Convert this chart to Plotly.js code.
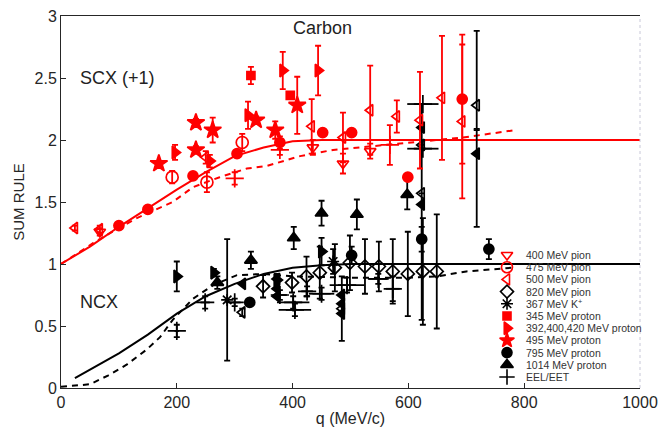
<!DOCTYPE html>
<html><head><meta charset="utf-8">
<script src="https://cdn.plot.ly/plotly-3.0.1.min.js"></script>
<style>html,body{margin:0;padding:0;background:#fff}#chart{width:659px;height:431px}</style>
</head><body><div id="chart"></div>
<script>
// ---------- theory curves ----------
const scxSolidQ=[0,25,50,100,150,200,250,300,350,400,450,500,1000];
const scxSolidY=[1.0,1.07,1.14,1.30,1.45,1.60,1.74,1.87,1.94,1.99,2.0,2.0,2.0];
const scxDashQ=[0,56,100,131,193,228,274,321,355,413,470,539,600,694,785];
const scxDashY=[1.0,1.17,1.29,1.37,1.50,1.62,1.70,1.77,1.79,1.87,1.92,1.95,1.98,2.02,2.08];
const ncxSolidQ=[24,50,100,150,200,250,300,350,400,450,500,1000];
const ncxSolidY=[0.08,0.15,0.28,0.43,0.60,0.74,0.84,0.92,0.97,0.99,1.0,1.0];
const ncxDashQ=[0,50,81,114,148,171,193,228,263,304,350,400,500,600,650,700,780];
const ncxDashY=[0.01,0.03,0.10,0.19,0.31,0.41,0.55,0.72,0.83,0.91,0.92,0.90,0.89,0.89,0.90,0.94,0.97];

// ---------- SCX (red) data ----------
const r400Q=[67,435,487,534], r400Y=[1.26,1.94,1.81,1.91], r400E=[0.03,0.06,0.08,0.06];
const r475Q=[192,252,313], r475Y=[1.70,1.66,1.98], r475E=[0.05,0.08,0.07];
const r500Q=[24,67,250,433,487,534,580,620,658,693];
const r500Y=[1.29,1.28,1.86,2.11,2.02,2.24,2.19,2.16,2.34,2.15];
const r500E=[0.02,0.03,0.05,0.22,0.2,0.36,0.13,0.39,0.5,0.62];
const r345Q=[328,396], r345Y=[2.52,2.36], r345E=[0.07,0];
const r392Q=[197,257,323,383,444], r392Y=[1.90,1.83,2.20,2.56,2.56], r392E=[0.06,0.05,0.11,0.15,0.2];
const r495Q=[169,233,233,262,337,370,408], r495Y=[1.81,2.14,1.92,2.08,2.16,2.08,2.28], r495E=[0,0.03,0.03,0.1,0.03,0.07,0.23];
const r795Q=[100,150,228,304,378,452,502,599,693], r795Y=[1.31,1.44,1.71,1.89,1.98,2.06,2.06,1.70,2.33], r795E=[0,0,0,0,0.05,0,0,0,0.52];
const rEelQ=[300,378,568], rEelY=[1.69,1.92,1.96], rEelE=[0.05,0.04,0.16];

// ---------- NCX (black) data ----------
const b820Q=[349,399,424,447,473,499,525,549,573,599,625,649];
const b820Y=[0.82,0.85,0.90,0.93,0.97,1.01,0.98,0.98,0.94,0.92,0.94,0.94];
const b820E=[0.09,0.08,0.16,0.21,0.19,0.22,0.22,0.2,0.26,0.34,0.43,0.46];
const bKQ=[287,470], bKY=[0.71,1.02], bKE=[0.49,0.1];
const b795Q=[326,502,623,739], b795Y=[0.69,1.07,1.20,1.12], b795E=[0,0.07,0.1,0.08];
const b1014Q=[270,328,402,450,511,598], b1014Y=[0.85,1.03,1.21,1.41,1.40,1.56], b1014E=[0.05,0.07,0.09,0.1,0.12,0.12];
const b392Q=[200,264,373,450], b392Y=[0.90,0.93,0.87,1.10], b392E=[0.12,0.03,0.05,0.11];
const bEelQ=[200,249,300,378,401,404,425,450,494,548,573,625,625];
const bEelY=[0.46,0.69,0.69,0.75,0.69,0.63,0.78,0.76,0.83,0.88,0.80,2.29,1.93];
const bEelXE=[4,8,10,12,28,28,10,22,30,18,12,27,27];
const bEelYE=[0.05,0.05,0.03,0.04,0.05,0.05,0.04,0.05,0.06,0.04,0.1,0,0];
const b500Q=[313,485,623,623,718], b500Y=[0.61,0.64,1.96,1.57,2.28];
const b500Ep=[0.03,0.26,0,0,0.6], b500Em=[0.03,0.26,0,0,0.2];
const bTLQ=[314,373,373,373,485,485,485,623,623,718];
const bTLY=[0.84,0.88,0.80,0.74,0.75,0.68,0.60,2.10,1.48,1.89];
const bTLEp=[0,0,0,0,0,0,0,0,0.81,0.2], bTLEm=[0,0,0,0,0,0,0,0,0.93,0.59];

// ---------- legend ----------
const legLabels=['400 MeV pion','475 MeV pion','500 MeV pion','820 MeV pion','367 MeV K<sup>+</sup>','345 MeV proton','392,400,420 MeV proton','495 MeV proton','795 MeV proton','1014 MeV proton','EEL/EET'];

const RED='#ff0000', BLK='#000000';
const STY={
  p400:{symbol:'triangle-down-open',size:10},
  p475:{symbol:'circle-open',size:12},
  p500:{symbol:'triangle-left-open',size:10},
  p820:{symbol:'diamond-open',size:10},
  k367:{symbol:'asterisk-open',size:10},
  p345:{symbol:'square',size:8},
  p392:{symbol:'triangle-right',size:11},
  p495:{symbol:'star',size:13},
  p795:{symbol:'circle',size:10},
  p1014:{symbol:'triangle-up',size:11},
  eel:{symbol:'cross-thin-open',size:13},
  tl:{symbol:'triangle-left',size:10}
};
const legOrder=[['p400',RED],['p475',RED],['p500',RED],['p820',BLK],['k367',BLK],['p345',RED],['p392',RED],['p495',RED],['p795',BLK],['p1014',BLK],['eel',BLK]];

function mk(q,y,ep,em,key,color,xe){
  const s=STY[key];
  const t={type:'scatter',mode:'markers',x:q,y:y,showlegend:false,hoverinfo:'skip',
    marker:{symbol:s.symbol,size:s.size,color:color,line:{color:color,width:1.7}},
    error_y:{type:'data',array:ep,arrayminus:em||ep,symmetric:!em,color:color,thickness:1.8,width:3}};
  if(xe){t.error_x={type:'data',array:xe,color:color,thickness:1.8,width:0};}
  return t;
}
function line(q,y,color,dash){
  return {type:'scatter',mode:'lines',x:q,y:y,showlegend:false,hoverinfo:'skip',
    line:{color:color,width:2,dash:dash?'6px,5px':'solid'}};
}

const traces=[
  line(scxSolidQ,scxSolidY,RED,false), line(scxDashQ,scxDashY,RED,true),
  line(ncxSolidQ,ncxSolidY,BLK,false), line(ncxDashQ,ncxDashY,BLK,true),
  mk(b820Q,b820Y,b820E,null,'p820',BLK),
  mk(bKQ,bKY,bKE,null,'k367',BLK),
  mk(bEelQ,bEelY,bEelYE,null,'eel',BLK,bEelXE),
  mk(b500Q,b500Y,b500Ep,b500Em,'p500',BLK),
  mk(bTLQ,bTLY,bTLEp,bTLEm,'tl',BLK),
  mk(b392Q,b392Y,b392E,null,'p392',BLK),
  mk(b1014Q,b1014Y,b1014E,null,'p1014',BLK),
  mk(b795Q,b795Y,b795E,null,'p795',BLK),
  mk(rEelQ,rEelY,rEelE,null,'eel',RED),
  mk(r400Q,r400Y,r400E,null,'p400',RED),
  mk(r475Q,r475Y,r475E,null,'p475',RED),
  mk(r500Q,r500Y,r500E,null,'p500',RED),
  mk(r345Q,r345Y,r345E,null,'p345',RED),
  mk(r392Q,r392Y,r392E,null,'p392',RED),
  mk(r495Q,r495Y,r495E,null,'p495',RED),
  mk(r795Q,r795Y,r795E,null,'p795',RED)
];

const annotations=[
  {xref:'x',yref:'y',x:452,y:2.90,text:'Carbon',showarrow:false,font:{size:18,color:'#222'}},
  {xref:'x',yref:'y',x:30,y:2.5,xanchor:'left',text:'SCX (+1)',showarrow:false,font:{size:18,color:'#222'}},
  {xref:'x',yref:'y',x:30,y:0.69,xanchor:'left',text:'NCX',showarrow:false,font:{size:18,color:'#222'}}
];
// custom compact legend on a hidden overlay axis (units = pixels of the plot area)
legOrder.forEach((e,i)=>{
  const s=STY[e[0]], yy=133-12.2*i;
  traces.push({type:'scatter',mode:'markers',x:[446],y:[yy],xaxis:'x2',yaxis:'y2',showlegend:false,hoverinfo:'skip',
    marker:{symbol:s.symbol,size:Math.min(s.size,11),color:e[1],line:{color:e[1],width:1.6}}});
  annotations.push({xref:'x2',yref:'y2',x:463,y:yy,xanchor:'left',yanchor:'middle',text:legLabels[i],showarrow:false,
    font:{size:10.5,color:'#333'}});
});

const layout={
  width:659,height:431,margin:{l:61,r:19,t:16,b:43},
  paper_bgcolor:'#fff',plot_bgcolor:'#fff',
  font:{family:'Liberation Sans, Arial, sans-serif',color:'#262626'},
  showlegend:false,
  xaxis:{range:[0,1000],dtick:200,tick0:0,ticks:'inside',ticklen:5,tickcolor:'#262626',showgrid:false,zeroline:false,
    showline:true,linecolor:'#262626',linewidth:1,mirror:true,tickfont:{size:16},
    title:{text:'q (MeV/c)',font:{size:16},standoff:2}},
  yaxis:{range:[0,3],dtick:0.5,tick0:0,ticks:'inside',ticklen:5,tickcolor:'#262626',showgrid:false,zeroline:false,
    showline:true,linecolor:'#262626',linewidth:1,tickfont:{size:16},
    title:{text:'SUM RULE',font:{size:15},standoff:6}},
  xaxis2:{overlaying:'x',range:[0,579],visible:false,fixedrange:true},
  yaxis2:{overlaying:'y',range:[0,372],visible:false,fixedrange:true},
  shapes:[{type:'line',xref:'paper',yref:'paper',x0:1,x1:1,y0:0,y1:1,line:{color:'#c8c8d8',width:1,dash:'dot'}}],
  annotations:annotations
};
Plotly.newPlot('chart',traces,layout,{staticPlot:true});
</script></body></html>
